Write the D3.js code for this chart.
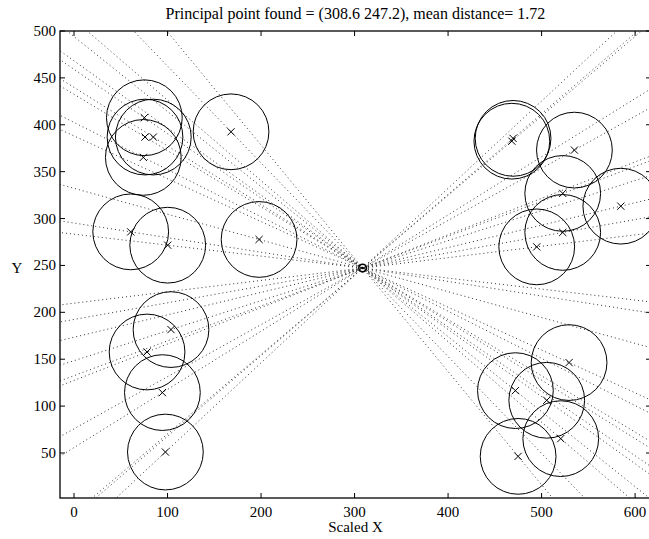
<!DOCTYPE html>
<html>
<head>
<meta charset="utf-8">
<script src="https://cdn.jsdelivr.net/npm/d3@7"></script>
<style>
  html, body { margin: 0; padding: 0; background: #fff; }
  svg { display: block; font-family: "Liberation Serif", "Times New Roman", serif; }
</style>
</head>
<body>
<svg id="chart" width="649" height="539"></svg>
<script>
// Measured image points (scaled X, Y)
const pointX = [75.2, 75.9, 84.8, 74.1, 167.9, 60.6, 100.2, 197.9,
                103.7, 78.1, 94.5, 97.7,
                469.5, 468.2, 535.1, 522.6, 584.7, 522.6, 494.8,
                529.4, 472.0, 505.5, 520.5, 474.9];
const pointY = [407.5, 386.9, 386.9, 365.2, 392.5, 285.8, 271.6, 277.7,
                181.6, 157.7, 114.4, 51.0,
                385.5, 382.5, 373.0, 326.8, 313.2, 285.2, 269.8,
                146.4, 116.5, 106.2, 65.3, 46.4];
// Uncertainty circle radius (data units)
const circleRadius = 40.5;

// Estimated principal point and fit quality
const principal = [308.6, 247.2];
const meanDistance = 1.72;

const xTicks = [0, 100, 200, 300, 400, 500, 600];
const yTicks = [50, 100, 150, 200, 250, 300, 350, 400, 450, 500];

const titleText = `Principal point found = (${principal[0].toFixed(1)} ${principal[1].toFixed(1)}), mean distance= ${meanDistance.toFixed(2)}`;

const svg = d3.select("#chart");
const mLeft = 60, mRight = 651, mTop = 31, mBottom = 498;

const x = d3.scaleLinear().domain([-15, 617]).range([mLeft, mRight]);
const y = d3.scaleLinear().domain([2, 500]).range([mBottom, mTop]);

svg.append("defs").append("clipPath").attr("id", "plotClip")
  .append("rect").attr("x", mLeft).attr("y", mTop)
  .attr("width", mRight - mLeft).attr("height", mBottom - mTop);

const plot = svg.append("g").attr("clip-path", "url(#plotClip)");

// Dotted lines through each point and the principal point
const lineData = pointX.map((px, i) => {
  const dx = px - principal[0], dy = pointY[i] - principal[1];
  const len = Math.hypot(dx, dy);
  const ux = dx / len, uy = dy / len, T = 2000;
  return [[principal[0] - ux * T, principal[1] - uy * T],
          [principal[0] + ux * T, principal[1] + uy * T]];
});
plot.selectAll("line.ray").data(lineData).join("line")
  .attr("class", "ray")
  .attr("x1", d => x(d[0][0])).attr("y1", d => y(d[0][1]))
  .attr("x2", d => x(d[1][0])).attr("y2", d => y(d[1][1]))
  .attr("stroke", "#333").attr("stroke-width", 1)
  .attr("stroke-dasharray", "1 3");

// Circles around each point
const pxPerUnit = x(1) - x(0);
plot.selectAll("circle.pt").data(pointX).join("circle")
  .attr("class", "pt")
  .attr("cx", d => x(d)).attr("cy", (d, i) => y(pointY[i]))
  .attr("r", circleRadius * pxPerUnit)
  .attr("fill", "none").attr("stroke", "#000").attr("stroke-width", 1);

// Cross markers
const m = 3.6;
const crosses = plot.selectAll("g.cross").data(pointX).join("g")
  .attr("class", "cross")
  .attr("transform", (d, i) => `translate(${x(d)},${y(pointY[i])})`);
crosses.append("path")
  .attr("d", `M${-m},${-m}L${m},${m}M${-m},${m}L${m},${-m}`)
  .attr("stroke", "#000").attr("stroke-width", 1).attr("fill", "none");

// Principal point marker
plot.append("circle")
  .attr("cx", x(principal[0])).attr("cy", y(principal[1])).attr("r", 3.8)
  .attr("fill", "none").attr("stroke", "#000").attr("stroke-width", 1.6);
plot.append("circle")
  .attr("cx", x(principal[0])).attr("cy", y(principal[1])).attr("r", 1.2)
  .attr("fill", "#000");

// Axes box with inward ticks on all sides
const axisG = svg.append("g");
const tickLen = 5;
axisG.selectAll("line.xt").data(xTicks).join("line")
  .attr("x1", d => x(d)).attr("x2", d => x(d))
  .attr("y1", mBottom).attr("y2", mBottom - tickLen)
  .attr("stroke", "#000").attr("stroke-width", 1);
axisG.selectAll("line.xtt").data(xTicks).join("line")
  .attr("x1", d => x(d)).attr("x2", d => x(d))
  .attr("y1", mTop).attr("y2", mTop + tickLen)
  .attr("stroke", "#000").attr("stroke-width", 1);
axisG.selectAll("line.yt").data(yTicks).join("line")
  .attr("x1", mLeft).attr("x2", mLeft + tickLen)
  .attr("y1", d => y(d)).attr("y2", d => y(d))
  .attr("stroke", "#000").attr("stroke-width", 1);
axisG.selectAll("line.ytr").data(yTicks).join("line")
  .attr("x1", mRight).attr("x2", mRight - tickLen)
  .attr("y1", d => y(d)).attr("y2", d => y(d))
  .attr("stroke", "#000").attr("stroke-width", 1);
axisG.append("rect")
  .attr("x", mLeft).attr("y", mTop).attr("width", mRight - mLeft).attr("height", mBottom - mTop)
  .attr("fill", "none").attr("stroke", "#000").attr("stroke-width", 1.3);

// Tick labels
axisG.selectAll("text.xl").data(xTicks).join("text")
  .attr("x", d => x(d)).attr("y", mBottom + 19)
  .attr("text-anchor", "middle").attr("font-size", 15).text(d => d);
axisG.selectAll("text.yl").data(yTicks).join("text")
  .attr("x", mLeft - 4).attr("y", d => y(d) + 5)
  .attr("text-anchor", "end").attr("font-size", 15).text(d => d);

// Title and axis labels
svg.append("text").attr("x", (mLeft + mRight) / 2).attr("y", 19)
  .attr("text-anchor", "middle").attr("font-size", 16).text(titleText);
svg.append("text").attr("x", (mLeft + mRight) / 2).attr("y", 532)
  .attr("text-anchor", "middle").attr("font-size", 15).text("Scaled X");
svg.append("text").attr("x", 17).attr("y", 273)
  .attr("text-anchor", "middle").attr("font-size", 15).text("Y");
</script>
</body>
</html>
